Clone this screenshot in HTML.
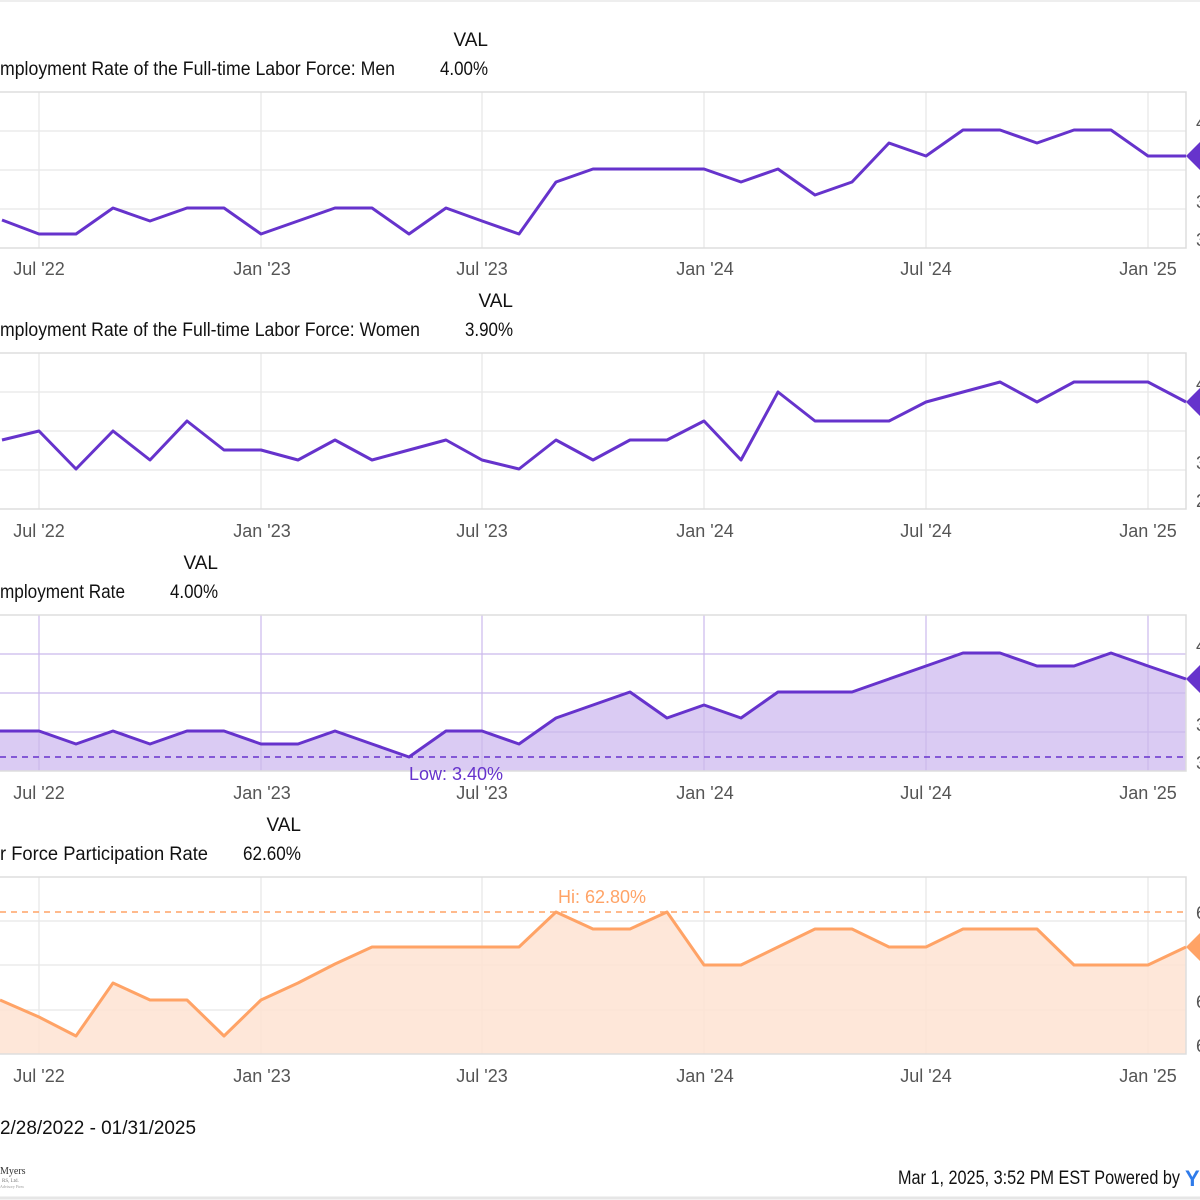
<!DOCTYPE html>
<html><head><meta charset="utf-8"><style>
html,body{margin:0;padding:0;background:#fff;}
svg{display:block;font-family:"Liberation Sans",sans-serif;}
.t{font-size:19px;fill:#111;}
.ax{font-size:18px;fill:#555;}
.g{stroke:#e8e8e8;stroke-width:1.3;fill:none;}
.box{stroke:#ddd;stroke-width:1.5;fill:none;}
</style></head><body>
<svg width="1200" height="1200" viewBox="0 0 1200 1200">
<rect width="1200" height="1200" fill="#fff"/>
<line x1="0" y1="1" x2="1200" y2="1" stroke="#eee" stroke-width="2"/>

<!-- Panel 1 -->
<text class="t" x="488" y="46" text-anchor="end">VAL</text>
<text class="t" x="0" y="75" textLength="395" lengthAdjust="spacingAndGlyphs">mployment Rate of the Full-time Labor Force: Men</text>
<text class="t" x="488" y="75" text-anchor="end" textLength="48" lengthAdjust="spacingAndGlyphs">4.00%</text>
<g class="g"><line x1="0" y1="131" x2="1186" y2="131"/><line x1="0" y1="170" x2="1186" y2="170"/><line x1="0" y1="209" x2="1186" y2="209"/>
<line x1="39" y1="92" x2="39" y2="248"/><line x1="261" y1="92" x2="261" y2="248"/><line x1="482" y1="92" x2="482" y2="248"/><line x1="704" y1="92" x2="704" y2="248"/><line x1="926" y1="92" x2="926" y2="248"/><line x1="1148" y1="92" x2="1148" y2="248"/></g>
<path class="box" d="M0 92H1186V248H0"/>
<polyline fill="none" stroke="#6633cc" stroke-width="3" stroke-linejoin="round" points="2,220 39,234 76,234 113,208 150,221 187,208 224,208 261,234 298,221 335,208 372,208 409,234 446,208 482,221 519,234 556,182 593,169 630,169 667,169 704,169 741,182 778,169 815,195 852,182 889,143 926,156 963,130 1000,130 1037,143 1074,130 1111,130 1148,156 1186,156"/>
<polygon points="1186,156 1200,142 1214,156 1200,170" fill="#6633cc"/>
<text class="ax" x="1196" y="129">4</text><text class="ax" x="1196" y="208">3</text><text class="ax" x="1196" y="246">3</text>
<g class="ax" text-anchor="middle"><text x="39" y="275">Jul '22</text><text x="262" y="275">Jan '23</text><text x="482" y="275">Jul '23</text><text x="705" y="275">Jan '24</text><text x="926" y="275">Jul '24</text><text x="1148" y="275">Jan '25</text></g>

<!-- Panel 2 -->
<text class="t" x="513" y="307" text-anchor="end">VAL</text>
<text class="t" x="0" y="336" textLength="420" lengthAdjust="spacingAndGlyphs">mployment Rate of the Full-time Labor Force: Women</text>
<text class="t" x="513" y="336" text-anchor="end" textLength="48" lengthAdjust="spacingAndGlyphs">3.90%</text>
<g class="g"><line x1="0" y1="392" x2="1186" y2="392"/><line x1="0" y1="431" x2="1186" y2="431"/><line x1="0" y1="470" x2="1186" y2="470"/>
<line x1="39" y1="353" x2="39" y2="509"/><line x1="261" y1="353" x2="261" y2="509"/><line x1="482" y1="353" x2="482" y2="509"/><line x1="704" y1="353" x2="704" y2="509"/><line x1="926" y1="353" x2="926" y2="509"/><line x1="1148" y1="353" x2="1148" y2="509"/></g>
<path class="box" d="M0 353H1186V509H0"/>
<polyline fill="none" stroke="#6633cc" stroke-width="3" stroke-linejoin="round" points="2,440 39,431 76,469 113,431 150,460 187,421 224,450 261,450 298,460 335,440 372,460 409,450 446,440 482,460 519,469 556,440 593,460 630,440 667,440 704,421 741,460 778,392 815,421 852,421 889,421 926,402 963,392 1000,382 1037,402 1074,382 1111,382 1148,382 1186,402"/>
<polygon points="1186,402 1200,388 1214,402 1200,416" fill="#6633cc"/>
<text class="ax" x="1196" y="390">4</text><text class="ax" x="1196" y="469">3</text><text class="ax" x="1196" y="507">2</text>
<g class="ax" text-anchor="middle"><text x="39" y="537">Jul '22</text><text x="262" y="537">Jan '23</text><text x="482" y="537">Jul '23</text><text x="705" y="537">Jan '24</text><text x="926" y="537">Jul '24</text><text x="1148" y="537">Jan '25</text></g>

<!-- Panel 3 -->
<text class="t" x="218" y="569" text-anchor="end">VAL</text>
<text class="t" x="0" y="598" textLength="125" lengthAdjust="spacingAndGlyphs">mployment Rate</text>
<text class="t" x="218" y="598" text-anchor="end" textLength="48" lengthAdjust="spacingAndGlyphs">4.00%</text>
<polygon fill="#dacbf3" points="0,771 0,731 39,731 76,744 113,731 150,744 187,731 224,731 261,744 298,744 335,731 372,744 409,757 446,731 482,731 519,744 556,718 593,705 630,692 667,718 704,705 741,718 778,692 815,692 852,692 889,679 926,666 963,653 1000,653 1037,666 1074,666 1111,653 1148,666 1186,679 1186,771"/>
<g stroke="#cbb9ec" stroke-width="1.2"><line x1="0" y1="654" x2="1186" y2="654"/><line x1="0" y1="693" x2="1186" y2="693"/><line x1="0" y1="732" x2="1186" y2="732"/>
<line x1="39" y1="615" x2="39" y2="771"/><line x1="261" y1="615" x2="261" y2="771"/><line x1="482" y1="615" x2="482" y2="771"/><line x1="704" y1="615" x2="704" y2="771"/><line x1="926" y1="615" x2="926" y2="771"/><line x1="1148" y1="615" x2="1148" y2="771"/></g>
<path class="box" d="M0 615H1186V771H0"/>
<line x1="0" y1="757" x2="1186" y2="757" stroke="#6633cc" stroke-width="1.5" stroke-dasharray="6,5"/>
<polyline fill="none" stroke="#6633cc" stroke-width="3" stroke-linejoin="round" points="0,731 39,731 76,744 113,731 150,744 187,731 224,731 261,744 298,744 335,731 372,744 409,757 446,731 482,731 519,744 556,718 593,705 630,692 667,718 704,705 741,718 778,692 815,692 852,692 889,679 926,666 963,653 1000,653 1037,666 1074,666 1111,653 1148,666 1186,679"/>
<polygon points="1186,679 1200,665 1214,679 1200,693" fill="#6633cc"/>
<text x="409" y="780" font-size="18" fill="#6633cc">Low: 3.40%</text>
<text class="ax" x="1196" y="652">4</text><text class="ax" x="1196" y="731">3</text><text class="ax" x="1196" y="769">3</text>
<g class="ax" text-anchor="middle"><text x="39" y="799">Jul '22</text><text x="262" y="799">Jan '23</text><text x="482" y="799">Jul '23</text><text x="705" y="799">Jan '24</text><text x="926" y="799">Jul '24</text><text x="1148" y="799">Jan '25</text></g>

<!-- Panel 4 -->
<text class="t" x="301" y="831" text-anchor="end">VAL</text>
<text class="t" x="0" y="860" textLength="208" lengthAdjust="spacingAndGlyphs">r Force Participation Rate</text>
<text class="t" x="301" y="860" text-anchor="end" textLength="58" lengthAdjust="spacingAndGlyphs">62.60%</text>
<g class="g"><line x1="0" y1="921" x2="1186" y2="921"/><line x1="0" y1="965" x2="1186" y2="965"/><line x1="0" y1="1010" x2="1186" y2="1010"/>
<line x1="39" y1="877" x2="39" y2="1054"/><line x1="261" y1="877" x2="261" y2="1054"/><line x1="482" y1="877" x2="482" y2="1054"/><line x1="704" y1="877" x2="704" y2="1054"/><line x1="926" y1="877" x2="926" y2="1054"/><line x1="1148" y1="877" x2="1148" y2="1054"/></g>
<polygon fill="#fee3d2" fill-opacity="0.85" points="0,1000 39,1017 76,1036 113,983 150,1000 187,1000 224,1036 261,1000 298,983 335,964 372,947 409,947 446,947 482,947 519,947 556,912 593,929 630,929 667,912 704,965 741,965 778,947 815,929 852,929 889,947 926,947 963,929 1000,929 1037,929 1074,965 1111,965 1148,965 1186,947 1186,1054 0,1054"/>
<path class="box" d="M0 877H1186V1054H0"/>
<line x1="0" y1="912" x2="1186" y2="912" stroke="#ffa366" stroke-width="1.5" stroke-dasharray="6,5"/>
<polyline fill="none" stroke="#ffa366" stroke-width="3" stroke-linejoin="round" points="0,1000 39,1017 76,1036 113,983 150,1000 187,1000 224,1036 261,1000 298,983 335,964 372,947 409,947 446,947 482,947 519,947 556,912 593,929 630,929 667,912 704,965 741,965 778,947 815,929 852,929 889,947 926,947 963,929 1000,929 1037,929 1074,965 1111,965 1148,965 1186,947"/>
<polygon points="1186,947 1200,933 1214,947 1200,961" fill="#ffa366"/>
<text x="558" y="903" font-size="18" fill="#ffa366">Hi: 62.80%</text>
<text class="ax" x="1196" y="919">6</text><text class="ax" x="1196" y="1008">6</text><text class="ax" x="1196" y="1052">6</text>
<g class="ax" text-anchor="middle"><text x="39" y="1082">Jul '22</text><text x="262" y="1082">Jan '23</text><text x="482" y="1082">Jul '23</text><text x="705" y="1082">Jan '24</text><text x="926" y="1082">Jul '24</text><text x="1148" y="1082">Jan '25</text></g>

<!-- Footer -->
<text class="t" x="0" y="1134" textLength="196" lengthAdjust="spacingAndGlyphs">2/28/2022 - 01/31/2025</text>
<text x="0" y="1174" font-family="Liberation Serif,serif" font-size="10" fill="#333">Myers</text>
<text x="2" y="1182" font-family="Liberation Serif,serif" font-size="5" fill="#777">RS, Ltd.</text>
<text x="0" y="1188" font-family="Liberation Serif,serif" font-size="4" fill="#999">Advisory Firm</text>
<text class="t" x="1180" y="1184" text-anchor="end" textLength="282" lengthAdjust="spacingAndGlyphs">Mar 1, 2025, 3:52 PM EST Powered by</text>
<text x="1185" y="1186" font-size="22" font-weight="bold" fill="#2f7bea">Y</text>
<line x1="0" y1="1198" x2="1200" y2="1198" stroke="#e6e6e6" stroke-width="3"/>
</svg>
</body></html>
